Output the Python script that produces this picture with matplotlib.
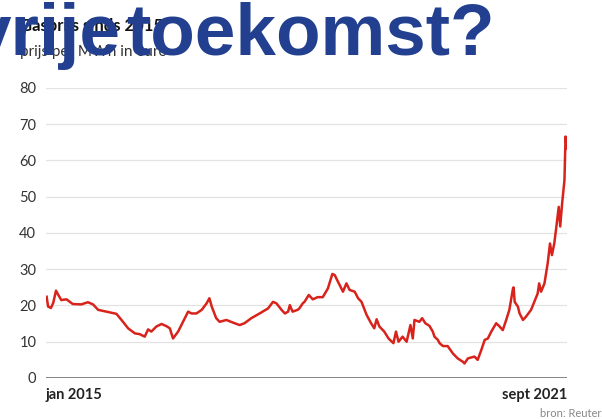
import matplotlib.pyplot as plt
import matplotlib.dates as mdates
import pandas as pd

plt.rcParams['font.family'] = ['Lato', 'DejaVu Sans']

# gasprijs (euro per MWh)
dates = ['2015-01-04', '2015-01-11', '2015-01-24', '2015-02-04', '2015-02-17', '2015-02-28',
         '2015-03-14', '2015-04-07', '2015-05-07', '2015-06-16', '2015-07-17', '2015-08-10',
         '2015-09-03', '2015-10-12', '2015-11-28', '2015-12-22', '2016-01-22', '2016-02-23',
         '2016-03-16', '2016-04-09', '2016-04-25', '2016-05-10', '2016-06-03', '2016-06-27',
         '2016-07-20', '2016-08-05', '2016-08-20', '2016-09-13', '2016-10-06', '2016-10-30',
         '2016-11-15', '2016-12-08', '2017-01-02', '2017-01-25', '2017-02-07', '2017-02-18',
         '2017-03-11', '2017-03-27', '2017-04-28', '2017-05-28', '2017-06-29', '2017-07-22',
         '2017-08-23', '2017-10-01', '2017-11-10', '2017-12-03', '2017-12-19', '2018-01-12',
         '2018-01-28', '2018-02-12', '2018-02-20', '2018-03-05', '2018-03-29', '2018-04-06',
         '2018-04-22', '2018-04-30', '2018-05-15', '2018-05-20', '2018-06-08', '2018-07-01',
         '2018-07-25', '2018-08-18', '2018-09-08', '2018-09-19', '2018-10-04', '2018-10-28',
         '2018-11-13', '2018-11-28', '2018-12-22', '2019-01-07', '2019-01-23', '2019-02-16',
         '2019-03-09', '2019-03-24', '2019-04-04', '2019-04-17', '2019-05-10', '2019-05-30',
         '2019-06-22', '2019-07-04', '2019-07-16', '2019-08-04', '2019-08-23', '2019-09-10',
         '2019-09-21', '2019-09-29', '2019-10-22', '2019-11-04', '2019-11-19', '2019-12-08',
         '2019-12-24', '2020-01-01', '2020-01-17', '2020-01-25', '2020-02-10', '2020-03-03',
         '2020-03-27', '2020-04-19', '2020-05-13', '2020-05-21', '2020-06-06', '2020-07-07',
         '2020-07-22', '2020-08-08', '2020-08-24', '2020-09-08', '2020-09-24', '2020-10-17',
         '2020-11-02', '2020-11-17', '2020-12-03', '2020-12-18', '2021-01-04', '2021-01-07',
         '2021-01-12', '2021-01-27', '2021-02-04', '2021-02-20', '2021-03-06', '2021-03-30',
         '2021-04-14', '2021-04-30', '2021-05-07', '2021-05-16', '2021-06-01', '2021-06-16',
         '2021-06-27', '2021-07-06', '2021-07-17', '2021-07-25', '2021-08-07', '2021-08-14',
         '2021-08-23', '2021-09-03', '2021-09-08', '2021-09-14']
prices = [22.4, 19.7, 19.3, 20.7, 24.1, 22.9,
          21.5, 21.7, 20.4, 20.3, 20.9, 20.3,
          18.8, 18.3, 17.7, 16.0, 13.7, 12.3,
          12.1, 11.4, 13.4, 12.8, 14.2, 14.9,
          14.3, 13.7, 10.9, 12.8, 15.5, 18.3,
          17.8, 17.8, 18.8, 20.6, 22.0, 19.7,
          16.5, 15.5, 16.0, 15.3, 14.6, 15.1,
          16.5, 17.8, 19.2, 21.0, 20.6, 18.8,
          17.8, 18.3, 20.1, 18.3, 18.8, 19.2,
          20.6, 21.0, 22.4, 22.9, 21.7, 22.3,
          22.3, 24.7, 28.7, 28.4, 26.6, 23.8,
          26.1, 24.3, 23.8, 22.0, 21.0, 17.4,
          15.1, 13.7, 16.2, 14.2, 12.8, 10.9,
          9.6, 12.8, 10.0, 11.4, 10.0, 14.6,
          10.9, 16.0, 15.5, 16.5, 15.1, 14.4,
          12.8, 11.4, 10.5, 9.6, 8.8, 8.8,
          6.8, 5.4, 4.5, 4.0, 5.4, 5.9,
          5.0, 7.7, 10.5, 10.9, 12.8, 15.1,
          14.2, 13.2, 16.0, 18.8, 24.7, 25.0,
          21.0, 19.7, 17.8, 16.0, 16.9, 18.8,
          21.0, 23.3, 26.1, 23.8, 26.1, 31.6,
          37.1, 33.9, 37.1, 40.8, 47.2, 41.8,
          48.2, 54.6, 66.6, 63.3]

yticks = [0, 10, 20, 30, 40, 50, 60, 70, 80]
xlabels = ['jan 2015', 'sept 2021']
xlabel_dates = ['2015-01-01', '2021-09-15']

x = pd.to_datetime(dates)
xl = pd.to_datetime(xlabel_dates)

fig = plt.figure(figsize=(6.02, 4.19), dpi=100)
ax = fig.add_axes([0.0764, 0.0979, 0.8655, 0.6921])

ax.plot(x, prices, color='#d8231c', lw=1.8, zorder=3)

ax.set_xlim(xl[0], xl[1])
ax.set_ylim(0, 80)
ax.set_yticks(yticks)
ax.grid(axis='y', color='#e3e3e3', lw=0.9)
ax.axhline(0, color='#7a7a7a', lw=1.3, zorder=2)
for s in ax.spines.values():
    s.set_visible(False)
ax.tick_params(axis='y', length=0, pad=7, labelsize=10.5, labelcolor='#333333')
ax.set_xticks(xl)
ax.set_xticklabels(xlabels, fontweight='bold', fontsize=10.5, color='#222222')
ax.tick_params(axis='x', length=0, pad=7)
lbls = ax.get_xticklabels()
lbls[0].set_ha('left')
lbls[1].set_ha('right')

fig.text(20 / 602, 1 - 31 / 419, 'Gasprijs sinds 2015', fontsize=12, fontweight='bold',
         color='#111111', va='baseline')
fig.text(20 / 602, 1 - 56 / 419, 'prijs per MWh in euro', fontsize=11, color='#333333',
         va='baseline')
fig.text(540 / 602, 1 - 417 / 419, 'bron: Reuters', fontsize=8, color='#888888',
         va='baseline')

# grote blauwe kop eroverheen
fig.text(121 / 602, 1 - 54.5 / 419, 'vrije', family='Liberation Sans', fontsize=52.5,
         fontweight='bold', color='#22408f', ha='right', va='baseline', zorder=10)
fig.text(126 / 602, 1 - 54.5 / 419, 'toekomst?', family='Liberation Sans', fontsize=52.5,
         fontweight='bold', color='#22408f', ha='left', va='baseline', zorder=10)

fig.savefig('out.png', dpi=100, facecolor='white')
